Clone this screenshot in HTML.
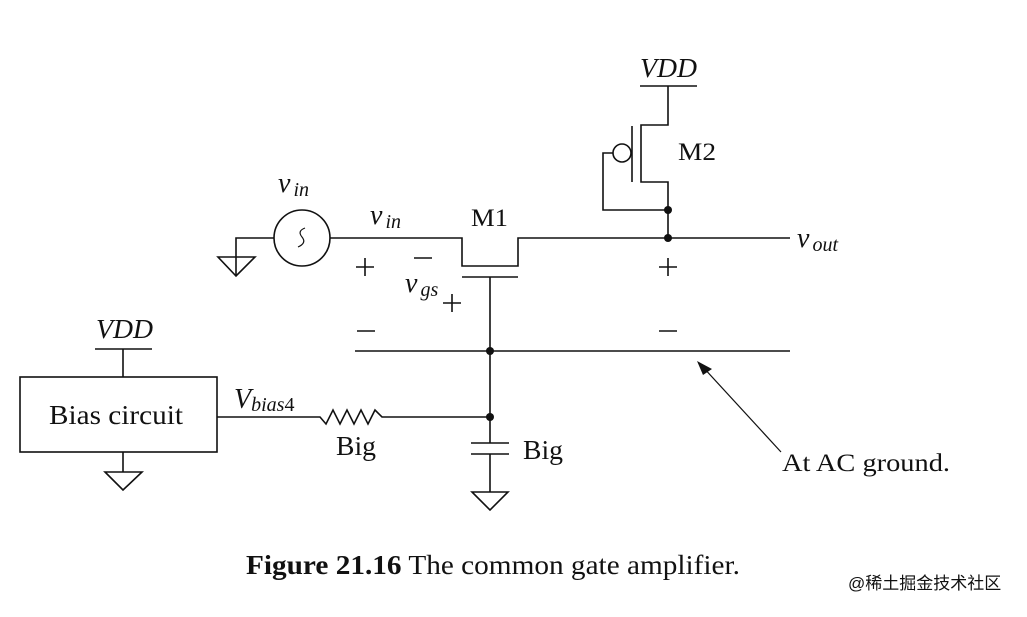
<!DOCTYPE html>
<html><head><meta charset="utf-8"><style>
body{margin:0;background:#fff}
svg text{font-family:"Liberation Serif",serif;fill:#111}
</style></head><body>
<svg width="1027" height="612" viewBox="0 0 1027 612" xmlns="http://www.w3.org/2000/svg">
<g stroke="#111" stroke-width="1.6" fill="none">
<line x1="640" y1="86" x2="697" y2="86"/>
<polyline points="668,86 668,125 641,125 641,182 668,182 668,238"/>
<line x1="632" y1="126" x2="632" y2="182"/>
<circle cx="622" cy="153" r="9"/>
<polyline points="613,153 603,153 603,210 668,210"/>
<polyline points="236,276 236,238 274,238"/>
<polygon points="218,257 255,257 236,276"/>
<circle cx="302" cy="238" r="28"/>
<path d="M305,228 q-8,3 -3,9 q5,6 -4,10" stroke-width="1.2"/>
<polyline points="330,238 462,238 462,266 518,266 518,238 790,238"/>
<line x1="462" y1="277" x2="518" y2="277"/>
<line x1="490" y1="277" x2="490" y2="443"/>
<line x1="355" y1="351" x2="790" y2="351"/>
<rect x="20" y="377" width="197" height="75"/>
<line x1="95" y1="349" x2="152" y2="349"/>
<line x1="123" y1="349" x2="123" y2="377"/>
<line x1="123" y1="452" x2="123" y2="472"/>
<polygon points="105,472 142,472 123,490"/>
<polyline points="217,417 320,417 326,424 333,410 340,424 347,410 354,424 361,410 368,424 375,410 382,417 490,417"/>
<line x1="471" y1="443" x2="509" y2="443"/>
<line x1="471" y1="454" x2="509" y2="454"/>
<line x1="490" y1="454" x2="490" y2="492"/>
<polygon points="472,492 508,492 490,510"/>
<path d="M356,267 h18 M365,258 v18"/>
<path d="M414,258 h18"/>
<path d="M443,303 h18 M452,294 v18"/>
<path d="M357,331 h18"/>
<path d="M659,267 h18 M668,258 v18"/>
<path d="M659,331 h18"/>
<line x1="781" y1="452" x2="702" y2="366" stroke-width="1.2"/>
</g>
<polygon points="697,361 712,369 703,375" fill="#111"/>
<g fill="#111">
<circle cx="668" cy="210" r="4"/>
<circle cx="668" cy="238" r="4"/>
<circle cx="490" cy="351" r="4"/>
<circle cx="490" cy="417" r="4"/>
</g>
<text x="640" y="77" font-size="27" font-style="italic" textLength="57" lengthAdjust="spacingAndGlyphs">VDD</text>
<text x="678" y="160" font-size="25" textLength="38" lengthAdjust="spacingAndGlyphs">M2</text>
<text x="797" y="247" font-size="28" font-style="italic">v<tspan font-size="20" dx="3" dy="4">out</tspan></text>
<text x="278" y="192" font-size="28" font-style="italic">v<tspan font-size="20" dx="3" dy="4">in</tspan></text>
<text x="370" y="224" font-size="28" font-style="italic">v<tspan font-size="20" dx="3" dy="4">in</tspan></text>
<text x="471" y="226" font-size="25" textLength="37" lengthAdjust="spacingAndGlyphs">M1</text>
<text x="405" y="292" font-size="28" font-style="italic">v<tspan font-size="20" dx="3" dy="4">gs</tspan></text>
<text x="96" y="338" font-size="27" font-style="italic" textLength="57" lengthAdjust="spacingAndGlyphs">VDD</text>
<text x="49" y="424" font-size="27" textLength="134" lengthAdjust="spacingAndGlyphs">Bias circuit</text>
<text x="234" y="408" font-size="28" font-style="italic">V<tspan font-size="20" dy="3">bias</tspan><tspan font-size="20" font-style="normal">4</tspan></text>
<text x="336" y="455" font-size="27" textLength="40" lengthAdjust="spacingAndGlyphs">Big</text>
<text x="523" y="459" font-size="27" textLength="40" lengthAdjust="spacingAndGlyphs">Big</text>
<text x="782" y="471" font-size="25" textLength="168" lengthAdjust="spacingAndGlyphs">At AC ground.</text>
<text x="246" y="574" font-size="27" textLength="494" lengthAdjust="spacingAndGlyphs"><tspan font-weight="bold">Figure 21.16</tspan>  The common gate amplifier.</text>
<text x="848" y="589" font-size="17" style="font-family:'Liberation Sans','Noto Sans CJK SC',sans-serif" fill="#bbb">@稀土掘金技术社区</text>
</svg>
</body></html>
